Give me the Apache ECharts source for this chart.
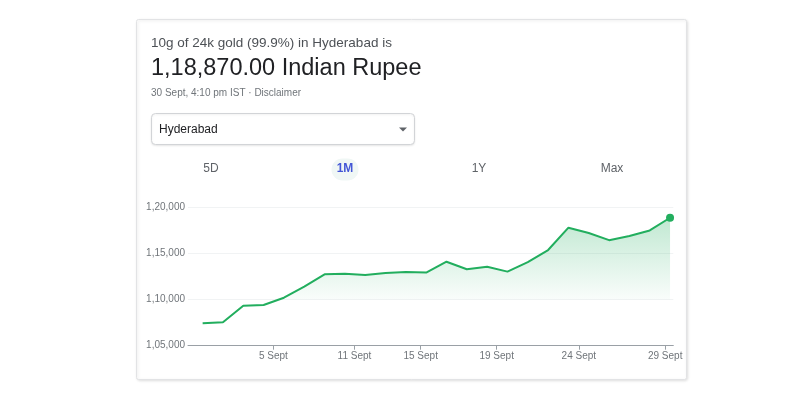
<!DOCTYPE html>
<html>
<head>
<meta charset="utf-8">
<script src="https://cdn.jsdelivr.net/npm/echarts@6/dist/echarts.min.js"></script>
<style>
  html, body { margin: 0; padding: 0; background: #fff; }
  #chart { width: 800px; height: 397px; }
</style>
</head>
<body>
<div id="chart"></div>
<script>
// gold price, one point per day shown in the 1M range
const prices = [
  107430, 107540, 109340, 109410, 110200, 111400, 112740, 112800,
  112660, 112880, 113000, 112930, 114100, 113280, 113560, 113030,
  114050, 115370, 117790, 117220, 116440, 116890, 117490, 118870
]
// date labels sit between the points, at these point positions
const tickPos = [3.48, 7.47, 10.73, 14.47, 18.51, 22.76]
const tickLabels = ['5 Sept', '11 Sept', '15 Sept', '19 Sept', '24 Sept', '29 Sept']
const rangeTabs = ['5D', '1M', '1Y', 'Max']
const tabX = [211, 345, 479, 612]

const font = 'Arial, "Liberation Sans", sans-serif'
const green = '#22ae5e'

const chart = echarts.init(document.getElementById('chart'))

const tabTexts = rangeTabs.map((t, i) => ({
  type: 'text',
  x: tabX[i],
  y: 169,
  z: 3,
  style: {
    text: t,
    font: '10px ' + font,
    fill: t === '1M' ? '#4457d6' : '#5f6368',
    fontWeight: t === '1M' ? 'bold' : 'normal',
    align: 'center',
    verticalAlign: 'middle'
  }
}))

chart.setOption({
  animation: false,
  textStyle: { fontFamily: font },
  graphic: [
    {
      type: 'rect',
      shape: { x: 136.5, y: 19.5, width: 550, height: 360, r: 2 },
      style: { fill: '#fff', stroke: '#e2e3e5', lineWidth: 1, shadowBlur: 3, shadowColor: 'rgba(0,0,0,0.12)', shadowOffsetX: 1, shadowOffsetY: 1 },
      z: -10
    },
    {
      type: 'text', x: 151, y: 43.5,
      style: { text: '10g of 24k gold (99.9%) in Hyderabad is', font: '13.5px ' + font, fill: '#4d5156', verticalAlign: 'middle' }
    },
    {
      type: 'text', x: 151, y: 68.5,
      style: { text: '1,18,870.00 Indian Rupee', font: '23.5px ' + font, fill: '#202124', verticalAlign: 'middle' }
    },
    {
      type: 'text', x: 151, y: 93,
      style: { text: '30 Sept, 4:10 pm IST · Disclaimer', font: '10px ' + font, fill: '#70757a', verticalAlign: 'middle' }
    },
    {
      type: 'rect',
      shape: { x: 151.5, y: 113.5, width: 263, height: 31, r: 4 },
      style: { fill: '#fff', stroke: '#d2d4d7', lineWidth: 1, shadowBlur: 2, shadowColor: 'rgba(0,0,0,0.08)', shadowOffsetY: 1 }
    },
    {
      type: 'text', x: 159, y: 129.5,
      style: { text: 'Hyderabad', font: '12px ' + font, fill: '#202124', verticalAlign: 'middle' }
    },
    {
      type: 'polygon',
      shape: { points: [[399, 127.5], [407, 127.5], [403, 131.5]] },
      style: { fill: '#5f6368' }
    },
    {
      type: 'rect',
      shape: { x: 331.5, y: 158.5, width: 27, height: 22, r: 11 },
      style: { fill: '#f0f7f5' },
      z: 2
    },
    ...tabTexts
  ],
  grid: { left: 188, right: 126.7, top: 207.3, bottom: 51.3, containLabel: false },
  xAxis: {
    type: 'value',
    min: -0.72,
    max: 23.16,
    splitLine: { show: false },
    axisLine: { show: true, lineStyle: { color: '#9aa0a6', width: 1 } },
    axisTick: { show: true, length: 4, customValues: tickPos, lineStyle: { color: '#9aa0a6' } },
    axisLabel: {
      customValues: tickPos,
      margin: 6,
      fontSize: 10,
      color: '#70757a',
      formatter: v => tickLabels[tickPos.indexOf(v)] || ''
    }
  },
  yAxis: {
    type: 'value',
    min: 105000,
    max: 120000,
    interval: 5000,
    axisLine: { show: false },
    axisTick: { show: false },
    splitLine: { lineStyle: { color: '#f1f3f4', width: 1 } },
    axisLabel: {
      margin: 3,
      fontSize: 10,
      color: '#70757a',
      formatter: v => v.toLocaleString('en-IN')
    }
  },
  series: [{
    type: 'line',
    data: prices.map((p, i) => [i, p]),
    symbol: 'circle',
    showSymbol: true,
    showAllSymbol: true,
    symbolSize: (v, p) => (p.dataIndex === prices.length - 1 ? 8 : 0),
    itemStyle: { color: green },
    lineStyle: { color: green, width: 2 },
    areaStyle: {
      color: {
        type: 'linear', x: 0, y: 207, x2: 0, y2: 346, global: true,
        colorStops: [
          { offset: 0, color: 'rgba(34,174,94,0.45)' },
          { offset: 0.66, color: 'rgba(34,174,94,0.04)' },
          { offset: 0.67, color: 'rgba(34,174,94,0)' },
          { offset: 1, color: 'rgba(34,174,94,0)' }
        ]
      }
    }
  }]
})
</script>
</body>
</html>
